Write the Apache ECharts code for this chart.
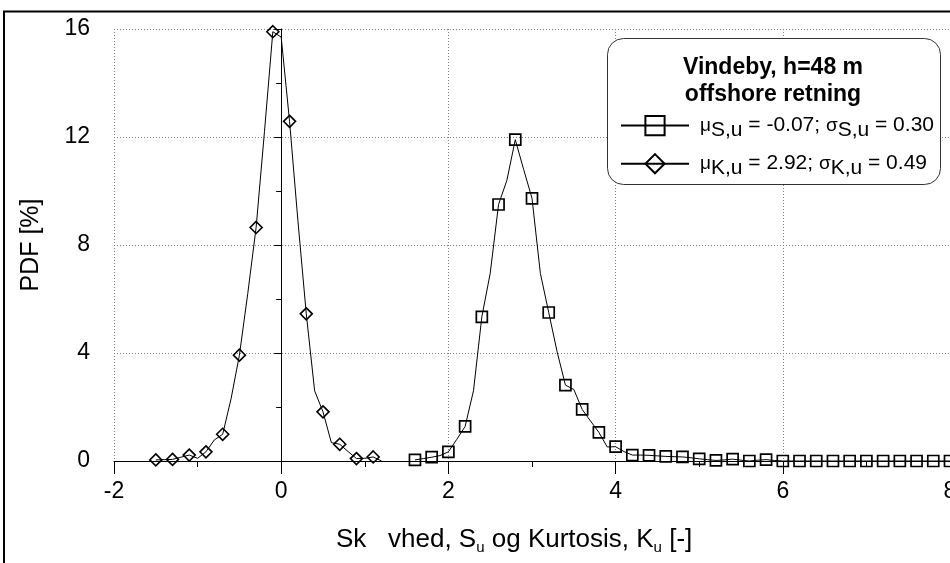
<!DOCTYPE html>
<html><head><meta charset="utf-8">
<script src="https://cdn.jsdelivr.net/npm/echarts@6/dist/echarts.min.js"></script>
<style>html,body{margin:0;padding:0;background:#fff}#c{width:950px;height:563px}</style>
</head><body><div id="c"></div>
<script>
// ---- data ----
const skewX = [-1.5,-1.4,-1.3,-1.2,-1.1,-1.0,-0.9,-0.8,-0.7,-0.6,-0.5,-0.4,-0.3,-0.2,-0.1,0.0,0.1,0.2,0.3,0.4,0.5,0.6,0.7,0.8,0.9,1.0,1.1,1.2];
const skewY = [0.04,0.05,0.06,0.14,0.22,0.10,0.34,0.78,0.99,2.30,3.92,6.20,8.65,12.2,15.9,15.7,12.58,8.90,5.45,2.60,1.82,0.68,0.62,0.35,0.09,0.10,0.15,0.00];
const skewMarkerX = [-1.5,-1.3,-1.1,-0.9,-0.7,-0.5,-0.3,-0.1,0.1,0.3,0.5,0.7,0.9,1.1];

const kurtX = [1.6,1.7,1.8,1.9,2.0,2.1,2.2,2.3,2.4,2.5,2.6,2.7,2.8,2.9,3.0,3.1,3.2,3.3,3.4,3.5,3.6,3.7,3.8,3.9,4.0,4.1,4.2,4.3,4.4,4.5,4.6,4.7,4.8,4.9,5.0,5.1,5.2,5.3,5.4,5.5,5.6,5.7,5.8,5.9,6.0,6.1,6.2,6.3,6.4,6.5,6.6,6.7,6.8,6.9,7.0,7.1,7.2,7.3,7.4,7.5,7.6,7.7,7.8,7.9,8.0];
const kurtY = [0.04,0.09,0.14,0.20,0.34,0.80,1.28,2.60,5.34,6.95,9.50,10.4,11.9,10.8,9.73,6.95,5.50,4.05,2.81,2.65,1.91,1.48,1.06,0.52,0.53,0.35,0.22,0.22,0.21,0.19,0.17,0.16,0.15,0.12,0.08,0.05,0.02,0.04,0.07,0.03,0.00,0.03,0.05,0.02,0,0,0,0,0,0,0,0,0,0,0,0,0,0,0,0,0,0,0,0,0];
const kurtMarkerX = [1.6,1.8,2.0,2.2,2.4,2.6,2.8,3.0,3.2,3.4,3.6,3.8,4.0,4.2,4.4,4.6,4.8,5.0,5.2,5.4,5.6,5.8,6.0,6.2,6.4,6.6,6.8,7.0,7.2,7.4,7.6,7.8,8.0];

const yTicks = [0,4,8,12,16];
const xTicks = [-2,0,2,4,6,8];

const legendTitle = ['Vindeby, h=48 m', 'offshore retning'];
const nameSquare = 'μS,u = -0.07; σS,u = 0.30';
const nameDiamond = 'μK,u = 2.92; σK,u = 0.49';
const yAxisTitle = 'PDF [%]';

// ---- build ----
const FONT = '"Liberation Sans", Arial, sans-serif';
function build(xs, ys, markers){
  return xs.map((x,i)=>{
    const m = markers.some(v=>Math.abs(v-x)<1e-6);
    return m ? [x, ys[i]] : {value:[x, ys[i]], symbol:'none'};
  });
}
const chart = echarts.init(document.getElementById('c'));
const grid = {left:114, right:0, top:29, bottom:102, outerBoundsMode:'none', containLabel:false};
const legendRich = {
  a:{fontSize:19, fontFamily:FONT, color:'#000', padding:[0,0,0,6]},
  g:{fontSize:19, fontFamily:FONT, color:'#000'},
  s:{fontSize:21, fontFamily:FONT, color:'#000', padding:[10,0,0,0]},
  t:{fontSize:21, fontFamily:FONT, color:'#000'}
};
function legendFmt(name){
  if(name===nameSquare) return '{a|μ}{s|S,u}{t| = -0.07; }{g|σ}{s|S,u}{t| = 0.30}';
  return '{a|μ}{s|K,u}{t| = 2.92; }{g|σ}{s|K,u}{t| = 0.49}';
}
const option = {
  backgroundColor:'#fff',
  animation:false,
  grid: grid,
  title: [{
    text:'{t|Sk   vhed, S}{u|u}{t| og Kurtosis, K}{u|u}{t| [-]}',
    left:336, top:525, padding:0,
    textStyle:{fontWeight:'normal', rich:{
      t:{fontSize:26, fontFamily:FONT, color:'#000', fontWeight:'normal'},
      u:{fontSize:15, fontFamily:FONT, color:'#000', fontWeight:'normal', padding:[15,0,0,0]}
    }}
  }],
  xAxis: {
    type:'value', min:-2, max:8, interval:2,
    axisLine:{show:true, onZero:false, lineStyle:{color:'#000', width:1}},
    axisTick:{show:true, inside:false, length:13, lineStyle:{color:'#000'}},
    minorTick:{show:true, splitNumber:2, length:6, lineStyle:{color:'#000'}},
    axisLabel:{fontSize:23, fontFamily:FONT, color:'#000', margin:19, showMaxLabel:true, showMinLabel:true,
      formatter: v => String(v)},
    splitLine:{show:true, lineStyle:{color:'#808080', type:[1,2], width:1}}
  },
  yAxis: {
    type:'value', min:0, max:16, interval:4,
    name:yAxisTitle, nameLocation:'middle', nameGap:70, nameRotate:90,
    nameTextStyle:{fontSize:25, fontFamily:FONT, color:'#000'},
    axisLine:{show:true, lineStyle:{color:'#000', width:1}},
    axisTick:{show:true, inside:false, length:7, lineStyle:{color:'#000'}},
    minorTick:{show:true, splitNumber:2, length:5, lineStyle:{color:'#000'}},
    axisLabel:{fontSize:23, fontFamily:FONT, color:'#000', margin:24},
    splitLine:{show:true, lineStyle:{color:'#808080', type:[1,2], width:1}}
  },
  legend: {
    orient:'vertical', left:620, top:115, itemWidth:68, itemHeight:24, itemGap:12,
    z:30, padding:0,
    data:[nameSquare, nameDiamond],
    formatter: legendFmt,
    textStyle:{fontSize:21, fontFamily:FONT, color:'#000', rich:legendRich}
  },
  graphic: [
    {type:'rect', z:1, silent:true, shape:{x:4, y:11.5, width:2000, height:2000},
     style:{fill:'none', stroke:'#000', lineWidth:2}},
    {type:'rect', z:20, silent:true, shape:{x:607.5, y:38.5, width:333, height:146, r:16},
     style:{fill:'#fff', stroke:'#333', lineWidth:1}},
    {type:'text', z:30, silent:true, x:773, y:68,
     style:{text:legendTitle[0], font:'bold 23px '+FONT, fill:'#000', align:'center', verticalAlign:'middle'}},
    {type:'text', z:30, silent:true, x:773, y:95,
     style:{text:legendTitle[1], font:'bold 23px '+FONT, fill:'#000', align:'center', verticalAlign:'middle'}}
  ],
  series: [
    {name:nameSquare, type:'line', data:build(kurtX, kurtY, kurtMarkerX),
     symbol:'rect', symbolSize:11, showAllSymbol:true,
     lineStyle:{color:'#000', width:1}, itemStyle:{color:'rgba(255,255,255,0)', borderColor:'#000', borderWidth:1.7},
     z:3},
    {name:nameDiamond, type:'line', data:build(skewX, skewY, skewMarkerX),
     symbol:'diamond', symbolSize:[12,12], showAllSymbol:true,
     lineStyle:{color:'#000', width:1}, itemStyle:{color:'rgba(255,255,255,0)', borderColor:'#000', borderWidth:1.6},
     z:3}
  ]
};
chart.setOption(option);
</script>
</body></html>
